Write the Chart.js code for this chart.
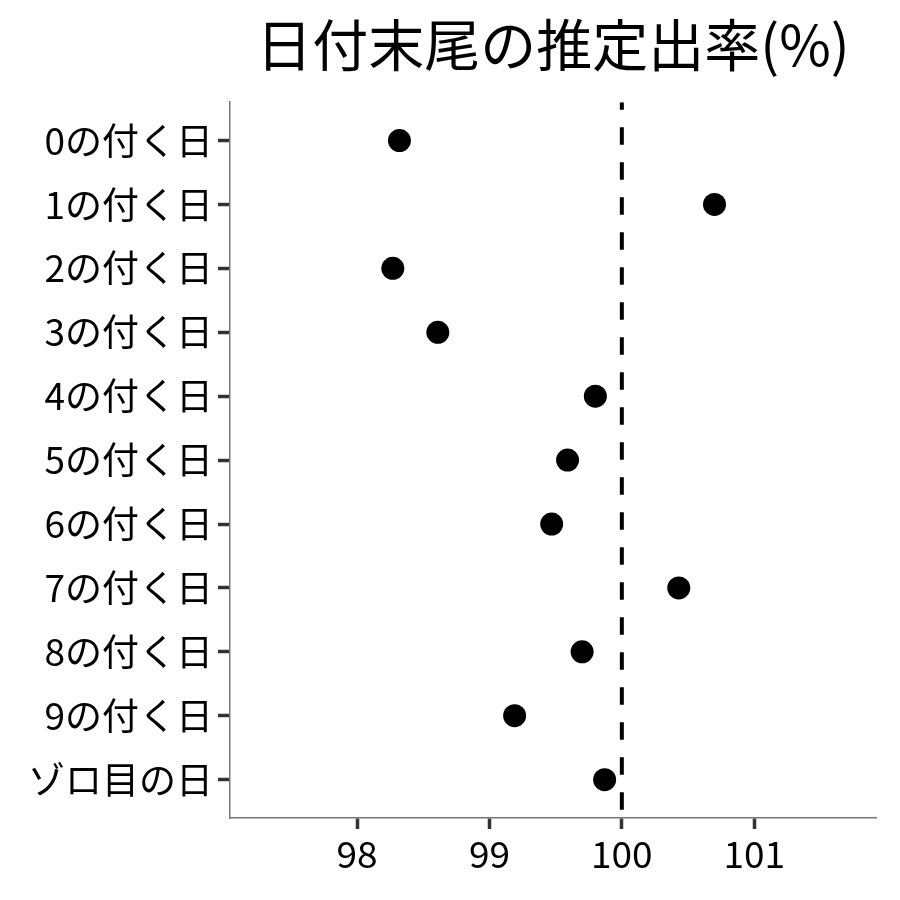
<!DOCTYPE html>
<html>
<head>
<meta charset="utf-8">
<script src="https://cdn.jsdelivr.net/npm/chart.js@4/dist/chart.umd.min.js"></script>
<style>
  body { margin: 0; background: #fff; }
  #wrap { width: 900px; height: 900px; }
</style>
</head>
<body>
<div id="wrap"><canvas id="grafico" width="900" height="900"></canvas></div>
<script>
// カテゴリ(上から順)
const categorias = ['0の付く日', '1の付く日', '2の付く日', '3の付く日', '4の付く日',
  '5の付く日', '6の付く日', '7の付く日', '8の付く日', '9の付く日', 'ゾロ目の日'];
// 推定出率(%)
const valores = [98.32, 100.70, 98.27, 98.61, 99.80, 99.59, 99.47, 100.43, 99.70, 99.19, 99.87];
const ticksX = [98, 99, 100, 101];
const linhaRef = 100;

const fonte = '"Noto Sans CJK JP", "Noto Sans", sans-serif';

const pontos = valores.map((v, i) => ({ x: v, y: i }));

new Chart(document.getElementById('grafico').getContext('2d'), {
  type: 'scatter',
  data: {
    datasets: [
      {
        type: 'line',
        data: [{ x: linhaRef, y: -0.6 }, { x: linhaRef, y: categorias.length - 0.4 }],
        borderColor: '#000',
        borderWidth: 4,
        borderDash: [17.5, 17.5],
        borderDashOffset: 10,
        pointRadius: 0,
        fill: false
      },
      {
        data: pontos,
        backgroundColor: '#000',
        borderColor: '#000',
        borderWidth: 0,
        pointRadius: 11.5,
        pointHoverRadius: 11.5
      }
    ]
  },
  options: {
    responsive: false,
    animation: false,
    layout: { padding: { left: 0, right: 24, top: 0, bottom: 0 } },
    plugins: {
      legend: { display: false },
      tooltip: { enabled: false },
      title: {
        display: true,
        text: '日付末尾の推定出率(%)',
        fullSize: false,
        color: '#000',
        font: { family: fonte, size: 56, weight: 'normal' },
        padding: { top: 11, bottom: 24 }
      }
    },
    scales: {
      x: {
        type: 'linear',
        min: 97.04,
        max: 101.92,
        afterBuildTicks: s => { s.ticks = ticksX.map(v => ({ value: v })); },
        afterFit: s => { s.height = 82; },
        grid: { drawOnChartArea: false, drawTicks: true, tickLength: 11, tickColor: '#333', tickWidth: 3.5 },
        border: { display: true, color: '#777', width: 1.5 },
        ticks: { color: '#000', padding: 3, font: { family: fonte, size: 37 }, maxRotation: 0 }
      },
      y: {
        type: 'linear',
        reverse: true,
        min: -0.6,
        max: categorias.length - 0.4,
        afterBuildTicks: s => { s.ticks = categorias.map((c, i) => ({ value: i })); },
        afterFit: s => { s.width = 230; },
        grid: { drawOnChartArea: false, drawTicks: true, tickLength: 12, tickColor: '#333', tickWidth: 3.5 },
        border: { display: true, color: '#777', width: 1.5 },
        ticks: {
          color: '#000',
          padding: 5,
          font: { family: fonte, size: 37 },
          callback: v => categorias[v]
        }
      }
    }
  }
});
</script>
</body>
</html>
